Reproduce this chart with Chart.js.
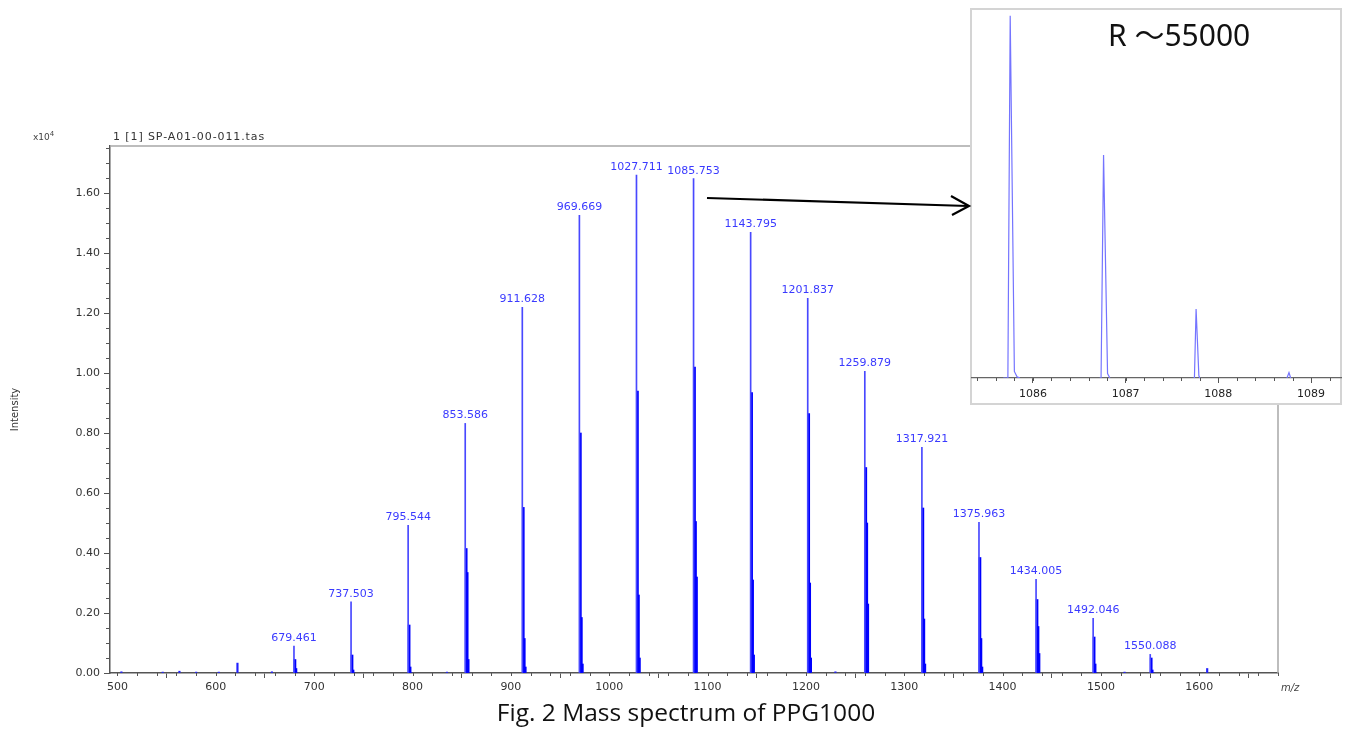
<!DOCTYPE html>
<html>
<head>
<meta charset="utf-8">
<script src="https://cdn.jsdelivr.net/npm/chart.js@4.4.1/dist/chart.umd.min.js"></script>
<style>
html,body{margin:0;padding:0;background:#fff;width:1346px;height:732px;overflow:hidden;}
body{position:relative;font-family:"DejaVu Sans",sans-serif;}
#main{position:absolute;left:0;top:0;}
#insetBox{position:absolute;left:970px;top:8px;width:372px;height:397px;box-sizing:border-box;border:2px solid #d4d4d4;background:#fff;}
#inset{position:absolute;left:970px;top:8px;}
.txt{position:absolute;white-space:nowrap;color:#333;line-height:1;}
#arrow{position:absolute;left:0;top:0;pointer-events:none;}
</style>
</head>
<body>
<canvas id="main" width="1346" height="732"></canvas>
<div id="insetBox"></div>
<canvas id="inset" width="372" height="397"></canvas>
<svg id="arrow" width="1346" height="732">
  <line x1="707" y1="198" x2="968" y2="206" stroke="#000" stroke-width="2.2"/>
  <polyline points="951,196 969,206 952,215" fill="none" stroke="#000" stroke-width="2.2"/>
</svg>
<div class="txt" style="left:33px;top:131px;font-size:9px;color:#444;">x10<sup style="font-size:7px;vertical-align:4px;">4</sup></div>
<div class="txt" style="left:113px;top:131px;font-size:11px;letter-spacing:0.9px;color:#333;">1 [1] SP-A01-00-011.tas</div>
<div class="txt" style="left:1281px;top:683px;font-size:10px;font-style:italic;color:#444;">m/z</div>
<div class="txt" style="left:1108px;top:20px;font-size:30px;font-family:'Noto Sans','Noto Sans CJK JP',sans-serif;color:#111;">R ～55000</div>
<div class="txt" style="left:386px;width:600px;text-align:center;top:700px;font-size:24.5px;font-family:'Open Sans','Noto Sans',sans-serif;color:#111;">Fig. 2 Mass spectrum of PPG1000</div>

<script>
// ---------- data (intensity in units of 10^4) ----------
const xTickLabels = [500, 600, 700, 800, 900, 1000, 1100, 1200, 1300, 1400, 1500, 1600];
const yTickLabels = [0.00, 0.20, 0.40, 0.60, 0.80, 1.00, 1.20, 1.40, 1.60];

const clusterMz = [679.461, 737.503, 795.544, 853.586, 911.628, 969.669, 1027.711, 1085.753,
                   1143.795, 1201.837, 1259.879, 1317.921, 1375.963, 1434.005, 1492.046, 1550.088];
const monoInt  = [0.090, 0.237, 0.492, 0.832, 1.219, 1.526, 1.660, 1.648,
                  1.469, 1.249, 1.006, 0.752, 0.502, 0.312, 0.182, 0.062];
const iso1Int  = [0.045, 0.060, 0.160, 0.415, 0.552, 0.800, 0.940, 1.020,
                  0.935, 0.865, 0.685, 0.550, 0.385, 0.245, 0.120, 0.050];
const iso2Int  = [0.015, 0.010, 0.020, 0.335, 0.115, 0.185, 0.260, 0.505,
                  0.310, 0.300, 0.500, 0.180, 0.115, 0.155, 0.030, 0.010];
const iso3Int  = [0.000, 0.000, 0.000, 0.045, 0.020, 0.030, 0.050, 0.320,
                  0.060, 0.050, 0.230, 0.030, 0.020, 0.065, 0.000, 0.000];

const minorMz  = [504, 546, 563, 580, 603, 622, 657, 835, 1230, 1524, 1608];
const minorInt = [0.004, 0.003, 0.006, 0.003, 0.003, 0.033, 0.004, 0.003, 0.004, 0.003, 0.015];

// inset: zoomed profile around m/z 1085.753 (null = gap between peaks)
const insetTicks = [1086, 1087, 1088, 1089];
const insetMz  = [1085.68, 1085.73, 1085.755, 1085.80, 1085.83, 1085.86, 1086.30,
                  1086.72, 1086.735, 1086.762, 1086.805, 1086.83, 1087.30,
                  1087.73, 1087.742, 1087.760, 1087.790, 1087.80, 1088.30,
                  1088.74, 1088.762, 1088.78];
const insetInt = [0, 0, 1.650, 0.030, 0.005, 0, null,
                  0, 0, 1.016, 0.020, 0, null,
                  0, 0, 0.314, 0.010, 0, null,
                  0, 0.025, 0];

// ---------- plugins ----------
const minorTicks = {
  id: 'minorTicks',
  afterDraw(chart, args, opts) {
    const ctx = chart.ctx;
    (opts.list || []).forEach(m => {
      const s = chart.scales[m.axis];
      const n = Math.round((m.to - m.from) / m.step);
      ctx.save();
      ctx.strokeStyle = m.color;
      ctx.lineWidth = 1;
      ctx.beginPath();
      for (let i = 0; i <= n; i++) {
        const v = m.from + i * m.step;
        const p = Math.round(s.getPixelForValue(v)) + 0.5;
        if (m.axis === 'x') { ctx.moveTo(p, s.top); ctx.lineTo(p, s.top + m.len); }
        else { ctx.moveTo(s.right, p); ctx.lineTo(s.right - m.len, p); }
      }
      ctx.stroke();
      ctx.restore();
    });
  }
};

const framePlugin = {
  id: 'frame',
  beforeDatasetsDraw(chart) {
    const {ctx, chartArea: a} = chart;
    ctx.save();
    ctx.strokeStyle = '#a8a8a8';
    ctx.lineWidth = 1.5;
    ctx.beginPath();
    ctx.moveTo(a.left, a.top);
    ctx.lineTo(a.right, a.top);
    ctx.lineTo(a.right, a.bottom);
    ctx.stroke();
    ctx.restore();
  }
};

const peakLabels = {
  id: 'peakLabels',
  afterDatasetsDraw(chart) {
    const ctx = chart.ctx;
    const meta = chart.getDatasetMeta(0);
    ctx.save();
    ctx.font = '11px "DejaVu Sans", sans-serif';
    ctx.fillStyle = '#3a3aff';
    ctx.textAlign = 'center';
    ctx.textBaseline = 'alphabetic';
    meta.data.forEach((el, i) => {
      ctx.fillText(clusterMz[i].toFixed(3), el.x, el.y - 5);
    });
    ctx.restore();
  }
};

const tickFont = {family: '"DejaVu Sans", sans-serif', size: 11};

// ---------- main spectrum ----------
const pts = (xs, ys, dx) => xs.map((x, i) => ({x: x + dx, y: ys[i]}));

new Chart(document.getElementById('main'), {
  type: 'bar',
  data: {
    datasets: [
      {label: 'M', data: pts(clusterMz, monoInt, 0), backgroundColor: '#4848ff', barThickness: 1},
      {label: 'M+1', data: pts(clusterMz, iso1Int, 1.003), backgroundColor: '#0000ff', barThickness: 2},
      {label: 'M+2', data: pts(clusterMz, iso2Int, 2.006), backgroundColor: '#0000ff', barThickness: 2},
      {label: 'M+3', data: pts(clusterMz, iso3Int, 3.009), backgroundColor: '#0000ff', barThickness: 2},
      {label: 'other', data: pts(minorMz, minorInt, 0), backgroundColor: '#2020ff', barThickness: 1.5}
    ]
  },
  options: {
    responsive: false,
    animation: false,
    devicePixelRatio: 1,
    layout: {padding: {left: 0, top: 146, right: 68, bottom: 29}},
    datasets: {bar: {grouped: false, borderWidth: 0}},
    plugins: {
      legend: {display: false},
      tooltip: {enabled: false},
      minorTicks: {list: [
        {axis: 'x', from: 500, to: 1680, step: 20, len: 3, color: '#555'},
        {axis: 'y', from: 0, to: 1.75, step: 0.05, len: 4, color: '#555'}
      ]}
    },
    scales: {
      x: {
        type: 'linear', min: 492.4, max: 1680, offset: false,
        afterBuildTicks: s => { s.ticks = xTickLabels.map(v => ({value: v})); },
        afterFit: s => { s.height = 30; },
        grid: {drawOnChartArea: false, drawTicks: true, tickLength: 5, tickColor: '#555', tickWidth: 1},
        border: {display: true, color: '#555', width: 1.5},
        ticks: {font: tickFont, color: '#333', padding: 3, maxRotation: 0, autoSkip: false,
                callback: v => String(v)}
      },
      y: {
        type: 'linear', min: 0, max: 1.7567,
        afterBuildTicks: s => { s.ticks = yTickLabels.map(v => ({value: v})); },
        afterFit: s => { s.width = 110; },
        grid: {drawOnChartArea: false, drawTicks: true, tickLength: 6, tickColor: '#555', tickWidth: 1},
        border: {display: true, color: '#555', width: 1.5},
        ticks: {font: tickFont, color: '#333', padding: 4, autoSkip: false,
                callback: v => Number(v).toFixed(2)},
        title: {display: true, text: 'Intensity', color: '#333',
                font: {family: '"DejaVu Sans", sans-serif', size: 10}, padding: {top: 9, bottom: 0}}
      }
    }
  },
  plugins: [minorTicks, framePlugin, peakLabels]
});

// ---------- inset ----------
new Chart(document.getElementById('inset'), {
  type: 'line',
  data: {
    datasets: [{
      data: insetMz.map((x, i) => ({x: x, y: insetInt[i]})),
      borderColor: '#7474ff', borderWidth: 1.2, pointRadius: 0, tension: 0, spanGaps: false, fill: false
    }]
  },
  options: {
    responsive: false,
    animation: false,
    devicePixelRatio: 1,
    layout: {padding: {left: 2, top: 4, right: 1, bottom: 3}},
    plugins: {
      legend: {display: false},
      tooltip: {enabled: false},
      minorTicks: {list: [{axis: 'x', from: 1085.4, to: 1089.2, step: 0.2, len: 3, color: '#555'}]}
    },
    scales: {
      x: {
        type: 'linear', min: 1085.343, max: 1089.323, offset: false,
        afterBuildTicks: s => { s.ticks = insetTicks.map(v => ({value: v})); },
        afterFit: s => { s.height = 24; },
        grid: {drawOnChartArea: false, drawTicks: true, tickLength: 5, tickColor: '#555', tickWidth: 1},
        border: {display: true, color: '#666', width: 1.2},
        ticks: {font: {family: '"DejaVu Sans", sans-serif', size: 11}, color: '#222', padding: 5,
                maxRotation: 0, autoSkip: false, callback: v => String(v)}
      },
      y: {display: false, min: 0, max: 1.6668}
    }
  },
  plugins: [minorTicks]
});
</script>
</body>
</html>
